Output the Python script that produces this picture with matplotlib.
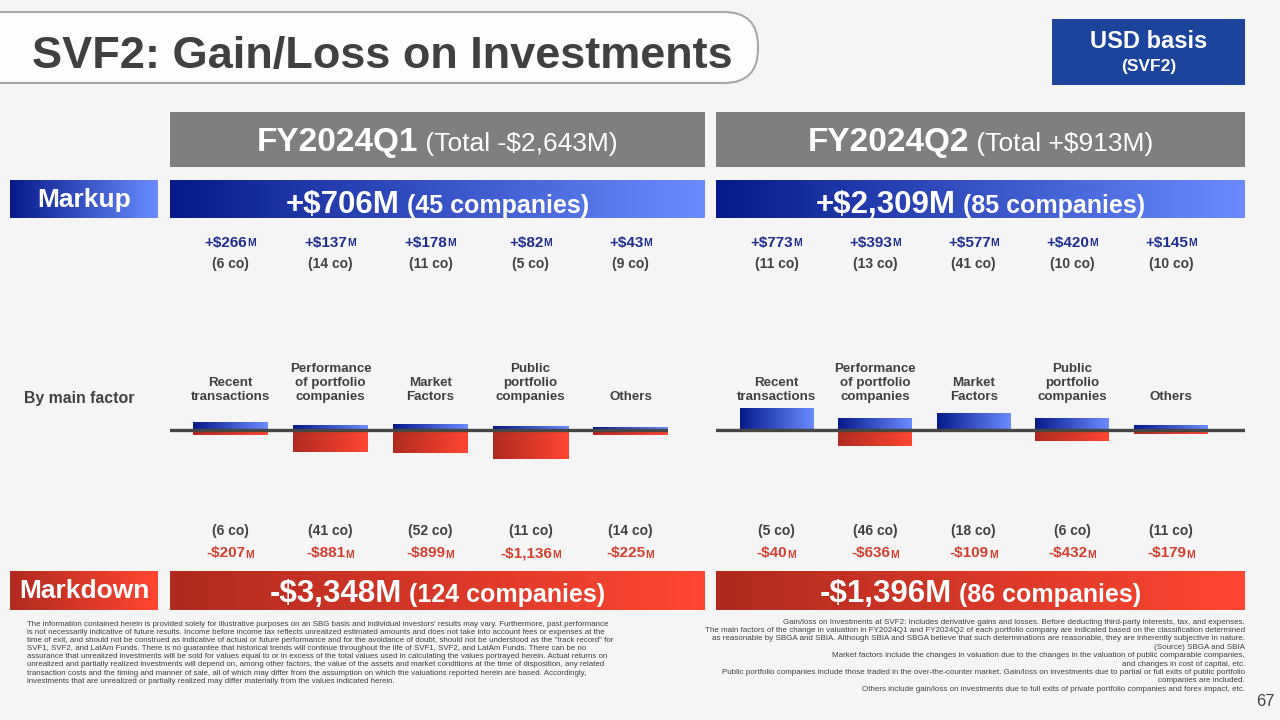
import matplotlib
matplotlib.use('Agg')
import matplotlib.pyplot as plt
import numpy as np
from matplotlib.colors import LinearSegmentedColormap
from matplotlib.patches import FancyBboxPatch, Rectangle
from matplotlib import transforms

plt.rcParams['font.family'] = ['Liberation Sans', 'DejaVu Sans']

# ---- data ----
factors = ['Recent\ntransactions', 'Performance\nof portfolio\ncompanies', 'Market\nFactors',
           'Public\nportfolio\ncompanies', 'Others']

q1_gain = [266, 137, 178, 82, 43]
q1_gain_co = [6, 14, 11, 5, 9]
q1_loss = [-207, -881, -899, -1136, -225]
q1_loss_co = [6, 41, 52, 11, 14]

q2_gain = [773, 393, 577, 420, 145]
q2_gain_co = [11, 13, 41, 10, 10]
q2_loss = [-40, -636, -109, -432, -179]
q2_loss_co = [5, 46, 18, 6, 11]

periods = ['FY2024Q1', 'FY2024Q2']
period_totals = ['(Total -$2,643M)', '(Total +$913M)']
markup_totals = ['+$706M', '+$2,309M']
markup_counts = ['(45 companies)', '(85 companies)']
markdown_totals = ['-$3,348M', '-$1,396M']
markdown_counts = ['(124 companies)', '(86 companies)']

footnote_left = [
    "The information contained herein is provided solely for illustrative purposes on an SBG basis and individual investors' results may vary. Furthermore, past performance",
    "is not necessarily indicative of future results. Income before income tax reflects unrealized estimated amounts and does not take into account fees or expenses at the",
    "time of exit, and should not be construed as indicative of actual or future performance and for the avoidance of doubt, should not be understood as the \"track record\" for",
    "SVF1, SVF2, and LatAm Funds. There is no guarantee that historical trends will continue throughout the life of SVF1, SVF2, and LatAm Funds. There can be no",
    "assurance that unrealized investments will be sold for values equal to or in excess of the total values used in calculating the values portrayed herein. Actual returns on",
    "unrealized and partially realized investments will depend on, among other factors, the value of the assets and market conditions at the time of disposition, any related",
    "transaction costs and the timing and manner of sale, all of which may differ from the assumption on which the valuations reported herein are based. Accordingly,",
    "investments that are unrealized or partially realized may differ materially from the values indicated herein.",
]
footnote_right = [
    "Gain/loss on Investments at SVF2: Includes derivative gains and losses. Before deducting third-party interests, tax, and expenses.",
    "The main factors of the change in valuation in FY2024Q1 and FY2024Q2 of each portfolio company are indicated based on the classification determined",
    "as reasonable by SBGA and SBIA. Although SBIA and SBGA believe that such determinations are reasonable, they are inherently subjective in nature.",
    "(Source) SBGA and SBIA",
    "Market factors include the changes in valuation due to the changes in the valuation of public comparable companies,",
    "and changes in cost of capital, etc.",
    "Public portfolio companies include those traded in the over-the-counter market. Gain/loss on investments due to partial or full exits of public portfolio",
    "companies are included.",
    "Others include gain/loss on investments due to full exits of private portfolio companies and forex impact, etc.",
]

# ---- style ----
BG = '#f5f5f5'
DARK = '#404040'
NAVY = '#1f2d8f'
RED_TXT = '#d4402f'
BLUE_GRAD = ['#061a8a', '#6a8cff']
RED_GRAD = ['#b02a1f', '#ff4632']

fig = plt.figure(figsize=(12.8, 7.2), dpi=100, facecolor=BG)
ov = fig.add_axes([0, 0, 1, 1], zorder=0)
ov.set_facecolor(BG)
ov.axis('off')
renderer = fig.canvas.get_renderer()


def grad(ax, x0, x1, y0, y1, colors, zorder=1):
    cmap = LinearSegmentedColormap.from_list('g', colors)
    ax.imshow(np.linspace(0, 1, 256)[None, :], cmap=cmap, extent=(x0, x1, y1, y0),
              aspect='auto', interpolation='bilinear', zorder=zorder)


def rich(ax, x, y, parts, transform=None, zorder=5):
    """Centre a line of text made of pieces with different fonts on baseline y."""
    if transform is None:
        transform = ax.transData
    texts = []
    for s, kw in parts:
        t = ax.text(x, y, s, transform=transform, ha='left', va='baseline', zorder=zorder, **kw)
        texts.append(t)
    widths = [t.get_window_extent(renderer).width for t in texts]
    dx = -sum(widths) / 2
    for t, w in zip(texts, widths):
        t.set_transform(transforms.offset_copy(transform, fig=fig, x=dx, y=0, units='dots'))
        dx += w


# title box
ov.add_patch(FancyBboxPatch((-60, 12), 818, 71, boxstyle='round,pad=0,rounding_size=34',
                            fc='#fdfdfd', ec='#a8a8a8', lw=1.5, zorder=1))
ov.text(32, 68, 'SVF2: Gain/Loss on Investments', fontsize=32.5, fontweight='bold',
        color=DARK, ha='left', va='baseline', zorder=2)

# USD basis box
ov.add_patch(Rectangle((1052, 19), 193, 66, fc='#1c449c', ec='none', zorder=1))
ov.text(1148.5, 42, 'USD basis', fontsize=17, fontweight='bold', color='white',
        ha='center', va='center', zorder=2)
ov.text(1148.5, 67, '(SVF2)', fontsize=12.5, fontweight='bold', color='white',
        ha='center', va='center', zorder=2)

# row labels
grad(ov, 10, 158, 180, 218, BLUE_GRAD)
ov.text(84, 200, 'Markup', fontsize=19, fontweight='bold', color='white',
        ha='center', va='center', zorder=3)
grad(ov, 10, 158, 571, 610, RED_GRAD)
ov.text(84, 591, 'Markdown', fontsize=19, fontweight='bold', color='white',
        ha='center', va='center', zorder=3)
ov.text(79, 398, 'By main factor', fontsize=11.4, fontweight='bold', color=DARK,
        ha='center', va='center')

panels = [
    dict(x0=170, x1=705, line_x1=668, step=100.0,
         gain=q1_gain, gain_co=q1_gain_co, loss=q1_loss, loss_co=q1_loss_co),
    dict(x0=716, x1=1245, line_x1=1245, step=98.6,
         gain=q2_gain, gain_co=q2_gain_co, loss=q2_loss, loss_co=q2_loss_co),
]

for i, p in enumerate(panels):
    cx = (p['x0'] + p['x1']) / 2
    # period header
    ov.add_patch(Rectangle((p['x0'], 112), p['x1'] - p['x0'], 55, fc='#7f7f7f', ec='none', zorder=1))
    rich(ov, cx, 151, [(periods[i], dict(fontsize=24, fontweight='bold', color='white')),
                       (' ' + period_totals[i], dict(fontsize=19, color='white'))])
    # markup / markdown bands
    grad(ov, p['x0'], p['x1'], 180, 218, BLUE_GRAD)
    rich(ov, cx, 213, [(markup_totals[i], dict(fontsize=22.5, fontweight='bold', color='white')),
                       (' ' + markup_counts[i], dict(fontsize=18, fontweight='bold', color='white'))])
    grad(ov, p['x0'], p['x1'], 571, 610, RED_GRAD)
    rich(ov, cx, 602, [(markdown_totals[i], dict(fontsize=22.5, fontweight='bold', color='white')),
                       (' ' + markdown_counts[i], dict(fontsize=18, fontweight='bold', color='white'))])

    # bar axes (pixel rows 380-480, baseline at 429.5, 0.026 px per $M)
    x = np.arange(len(factors))
    left_px = p['x0']
    width_px = p['line_x1'] - p['x0']
    ax = fig.add_axes([left_px / 1280, (720 - 480) / 720, width_px / 1280, 100 / 720], zorder=2)
    ax.patch.set_alpha(0)
    ax.axis('off')
    xlo = -60.5 / p['step']
    xhi = xlo + width_px / p['step']
    ylim = (-50.5 / 0.026, 49.5 / 0.026)
    for vals, colors in ((p['gain'], BLUE_GRAD), (p['loss'], RED_GRAD)):
        bars = ax.bar(x, vals, width=0.75, color='none', edgecolor='none')
        for b in bars:
            grad(ax, b.get_x(), b.get_x() + b.get_width(), b.get_y(), b.get_y() + b.get_height(),
                 colors, zorder=2)
    ax.axhline(0, color='#454545', lw=2.4, zorder=5)
    ax.set_xlim(xlo, xhi)
    ax.set_ylim(*ylim)

    tr = transforms.blended_transform_factory(ax.transData, ov.transData)
    for j, name in enumerate(factors):
        ov.text(x[j], 403, name, transform=tr, fontsize=9.6, fontweight='bold', color=DARK,
                ha='center', va='bottom', linespacing=1.2)
        rich(ov, x[j], 246.5, [(f"+${p['gain'][j]:,}", dict(fontsize=11, fontweight='bold', color=NAVY)),
                               ('M', dict(fontsize=7.5, fontweight='bold', color=NAVY))], transform=tr)
        ov.text(x[j], 264, f"({p['gain_co'][j]} co)", transform=tr, fontsize=10, fontweight='bold',
                color=DARK, ha='center', va='center')
        ov.text(x[j], 531, f"({p['loss_co'][j]} co)", transform=tr, fontsize=10, fontweight='bold',
                color=DARK, ha='center', va='center')
        rich(ov, x[j], 557.5, [(f"-${-p['loss'][j]:,}", dict(fontsize=11, fontweight='bold', color=RED_TXT)),
                               ('M', dict(fontsize=7.5, fontweight='bold', color=RED_TXT))], transform=tr)

# footnotes
for k, line in enumerate(footnote_left):
    ov.text(27, 624 + k * 8.2, line, fontsize=5.7, color=DARK, ha='left', va='center')
for k, line in enumerate(footnote_right):
    ov.text(1245, 622 + k * 8.4, line, fontsize=5.75, color=DARK, ha='right', va='center')
ov.text(1275, 702, '67', fontsize=12, color=DARK, ha='right', va='center')

ov.set_xlim(0, 1280)
ov.set_ylim(720, 0)

fig.savefig('out.png', dpi=100, facecolor=BG)
